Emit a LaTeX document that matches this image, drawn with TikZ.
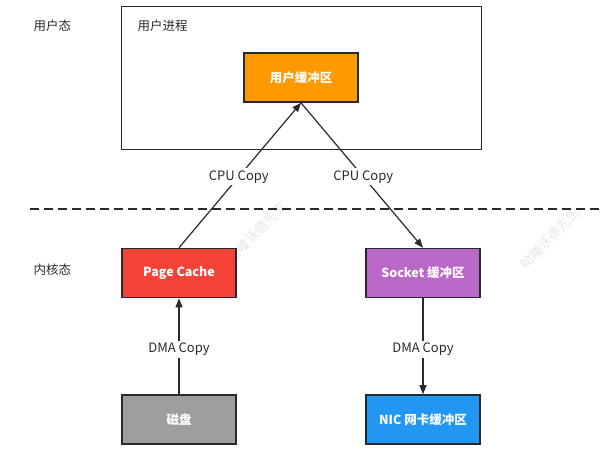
\documentclass[tikz,border=0pt]{standalone}
\usepackage{fontspec}
\setmainfont{Noto Sans CJK SC}
\usetikzlibrary{arrows.meta}
\definecolor{edgec}{HTML}{262A30}
\definecolor{ubufc}{HTML}{FF9900}
\definecolor{cachec}{HTML}{F44336}
\definecolor{sockc}{HTML}{BA68C8}
\definecolor{diskc}{HTML}{9E9E9E}
\definecolor{nicc}{HTML}{2196F3}

\begin{document}
\begin{tikzpicture}[x=1pt, y=-1pt,
        buf/.style  = {draw=edgec, line width=1.6pt, minimum width=114pt, minimum height=49pt, text=white, font=\bfseries\fontsize{12.5}{14}\selectfont},
        lbl/.style  = {text=edgec, font=\fontsize{12.5}{14}\selectfont},
        cp/.style   = {fill=white, inner sep=2pt, text=edgec, font=\fontsize{13}{15}\selectfont},
        ar/.style   = {-{Triangle[length=9pt, width=7pt]}, line width=1.2pt, draw=edgec},
        wm/.style   = {text=gray!20, rotate=46, inner sep=0pt, font=\fontsize{13}{15}\selectfont}
    ]
        \useasboundingbox (0,0) rectangle (612,466);

        % watermark
        \node[wm] (wm1) at (257,232) {哈喽沃德先生};
        \node[wm] (wm2) at (550,238) {哈喽沃德先生};

        % user space
        \node[lbl, anchor=west] (usr) at (30,26) {用户态};
        \node[draw=edgec, line width=1.6pt, minimum width=360pt, minimum height=143pt] (proc) at (301.5,78) {};
        \node[lbl, anchor=west] (proct) at (134,26) {用户进程};
        \node[buf, fill=ubufc] (ubuf) at (301,77.5) {用户缓冲区};

        % boundary
        \coordinate (dl) at (30,209);
        \coordinate (dr) at (602,209);
        \draw[edgec, line width=1.2pt, dash pattern=on 9pt off 5pt] (dl) -- (dr);

        % kernel space
        \node[lbl, anchor=west] (krn) at (30,270) {内核态};
        \node[buf, fill=cachec] (cache) at (179,273) {Page Cache};
        \node[buf, fill=sockc]  (sock)  at (423,273) {Socket 缓冲区};
        \node[buf, fill=diskc]  (disk)  at (179,419.5) {磁盘};
        \node[buf, fill=nicc]   (nic)   at (423,419.5) {NIC 网卡缓冲区};

        \draw[ar] (cache.north) -- node[cp, pos=0.49] (cpu1) {CPU Copy} (ubuf.south);
        \draw[ar] (ubuf.south) -- node[cp, pos=0.51] (cpu2) {CPU Copy} (sock.north);
        \draw[ar] (disk.north) -- node[cp, pos=0.47] (dma1) {DMA Copy} (cache.south);
        \draw[ar] (sock.south) -- node[cp, pos=0.53] (dma2) {DMA Copy} (nic.north);
    \end{tikzpicture}
\end{document}
